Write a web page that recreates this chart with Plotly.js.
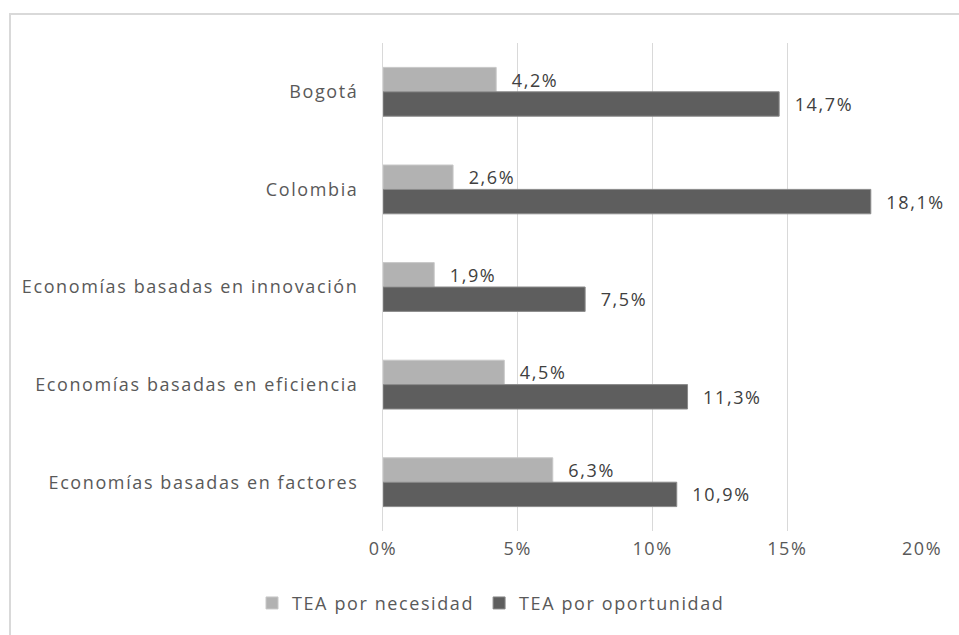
<!DOCTYPE html>
<html>
<head>
<meta charset="utf-8">
<script src="https://cdn.plot.ly/plotly-3.0.1.min.js"></script>
<style>
  body { margin: 0; background: #fff; }
  #frame { position: absolute; left: 9px; top: 13px; width: 1000px; height: 700px;
           border-left: 2px solid #d9d9d9; border-top: 2px solid #d9d9d9; }
  #chart1 { position: absolute; left: 0; top: 0; width: 959px; height: 635px; }
  /* the original text is drawn quite spaced out (global so plotly's text tester measures it too) */
  text { letter-spacing: 1.6px; }
</style>
</head>
<body>
<div id="frame"></div>
<div id="chart1"></div>
<script>
// categories and values (percent)
var categories = [
    'Bogotá',
    'Colombia',
    'Economías basadas en innovación',
    'Economías basadas en eficiencia',
    'Economías basadas en factores'
];
var necesidad = [4.2, 2.6, 1.9, 4.5, 6.3];
var oportunidad = [14.7, 18.1, 7.5, 11.3, 10.9];
var xTicks = [0, 5, 10, 15, 20];
var xTickLabels = ['0%', '5%', '10%', '15%', '20%'];

var fontFam = 'Open Sans, sans-serif';
var gap = '\u00a0\u00a0';

var trNecesidad = {
    type: 'bar',
    orientation: 'h',
    name: 'TEA por necesidad',
    y: categories,
    x: necesidad,
    marker: { color: '#b2b2b2', line: { color: '#c8c8c8', width: 1 } },
    texttemplate: gap + '%{x:.1f}%',
    textposition: 'outside',
    cliponaxis: false,
    textfont: { family: fontFam, size: 18, color: '#404040' }
};

var trOportunidad = {
    type: 'bar',
    orientation: 'h',
    name: 'TEA por oportunidad',
    y: categories,
    x: oportunidad,
    marker: { color: '#5e5e5e', line: { color: '#8a8a8a', width: 1 } },
    texttemplate: gap + '%{x:.1f}%',
    textposition: 'outside',
    cliponaxis: false,
    textfont: { family: fontFam, size: 18, color: '#404040' }
};

var layout = {
    width: 959,
    height: 635,
    paper_bgcolor: 'rgba(0,0,0,0)',
    plot_bgcolor: 'rgba(0,0,0,0)',
    separators: ',.',
    barmode: 'group',
    bargap: 0.5,
    bargroupgap: 0,
    margin: { l: 383, r: 37, t: 43, b: 104 },
    font: { family: fontFam, size: 18, color: '#595959' },
    xaxis: {
        range: [0, 20],
        tickmode: 'array',
        tickvals: xTicks,
        ticktext: xTickLabels,
        showgrid: true,
        gridcolor: '#d9d9d9',
        gridwidth: 1,
        zeroline: false,
        showline: false,
        ticks: '',
        ticklabelstandoff: 5
    },
    yaxis: {
        autorange: 'reversed',
        ticks: '',
        showline: true,
        linecolor: '#d9d9d9',
        ticklabelstandoff: 20
    },
    showlegend: true,
    legend: {
        orientation: 'h',
        xref: 'container',
        yref: 'container',
        x: 0.512,
        xanchor: 'center',
        y: 0.05,
        yanchor: 'middle',
        traceorder: 'normal',
        font: { family: fontFam, size: 18, color: '#595959' }
    }
};

Plotly.newPlot('chart1', [trNecesidad, trOportunidad], layout, { displayModeBar: false });
</script>
</body>
</html>
